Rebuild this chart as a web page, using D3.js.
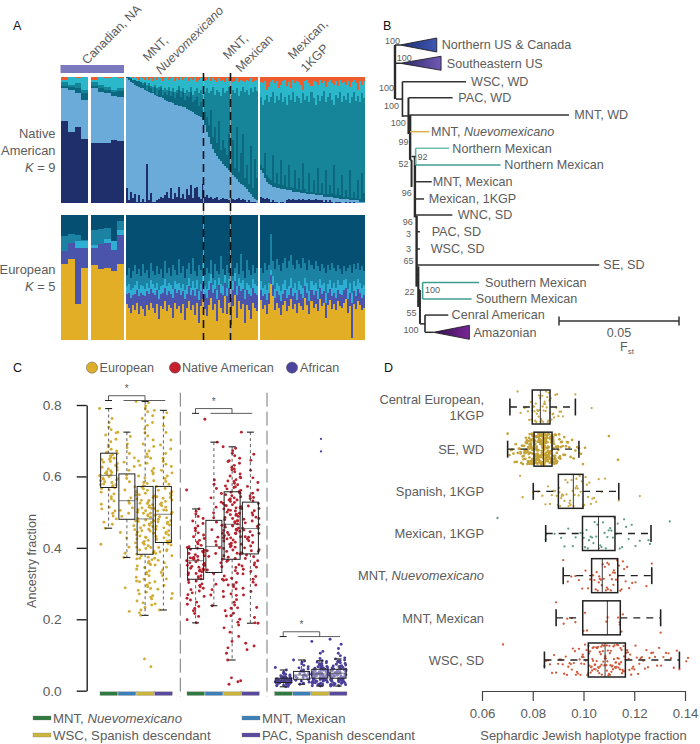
<!DOCTYPE html>
<html><head><meta charset="utf-8">
<script src="https://cdn.jsdelivr.net/npm/d3@7"></script>
<style>
html,body{margin:0;padding:0;background:#fff}
svg{display:block}
text{font-family:"Liberation Sans",Arial,sans-serif;fill:#5c5c5c}
</style></head><body><svg id="c" width="700" height="744"></svg>
<script>
// ===== Panel A data (cumulative percentage boundaries, bottom to top) =====
const naCan1={navy:[65,56,60,51],light:[91,90,87,82],deep:[93,92,91,87],teal:[96,94,95,90],cyan:[98,100,99,100]};
const naCan2={navy:[48,48,48,50,49],light:[91,88,87,85,84],deep:[93,91,90,88,89],teal:[96,94,92,90,91],cyan:[98,100,99,100,99]};
const naMntNavy=[12,2,9,4,7,1,6,1,3,1,31,2,8,1,1,2,3,5,4,6,9,4,12,3,8,5,13,4,7,3,11,6,14,4,12,13,5,3,15,5,6,4,5,3,4,5,2,3,4,3,3,2,4,3,2,3,4,2,3,2,1,2,1,1,1,0];
const naMntLight=[99,98,96,95,94,93,92,91,91,90,89,88,87,87,86,85,84,84,83,82,81,80,80,79,78,78,77,77,76,76,75,74,73,72,71,70,69,68,66,62,56,52,47,43,40,37,35,33,31,29,28,26,24,22,21,19,17,15,14,13,11,9,7,5,3,2];
const naMntDeep=[100,100,99,98,98,97,97,96,94,95,90,93,91,88,92,86,90,91,86,88,86,89,85,88,83,87,90,84,88,82,85,84,88,80,82,84,77,80,74,72,68,62,74,52,60,48,65,42,50,44,38,55,32,50,28,60,25,40,55,20,30,15,45,12,35,20];
const naMntTeal=[100,100,99,98,98,97,97,96,95,96,94,95,93,92,94,91,92,93,90,91,90,92,89,91,88,90,93,89,91,87,90,88,92,86,89,91,87,90,86,88,91,87,89,92,86,90,88,85,91,87,89,92,86,90,87,91,85,89,92,88,90,86,91,88,92,89];
const naMntCyan=[100,100,100,99,100,99,98,100,99,98,100,98,99,97,100,98,100,99,97,99,100,98,99,100,97,99,98,100,98,99,100,97,99,98,100,96,98,99,100,97,98,100,97,99,98,96,99,97,98,96,99,97,98,96,97,99,96,98,97,96,98,97,99,96,97,98];
const naMexNavy=[5,4,3,4,3,1,2,1,1,0,1,1,0,2,3,2,3,2,2,3,2,3,2,2,3,2,2,3,2,2,2,1,2,1,2,1,0,1,1,1,0,0,1,0,1,0,1,0,0,0,0,0];
const naMexLight=[26,24,20,17,15,14,13,13,12,12,11,11,11,10,10,10,9,9,9,9,8,8,8,7,7,7,7,6,6,6,6,5,5,5,5,5,4,4,4,3,3,3,3,3,2,2,2,2,2,1,1,1];
const naMexDeep=[30,28,40,22,20,18,38,16,24,15,34,14,22,13,30,13,12,26,11,20,10,32,11,9,24,9,18,8,28,8,16,7,26,7,14,8,30,6,12,6,22,5,10,5,26,4,9,4,18,3,24,8];
const naMexTeal=[84,78,82,86,80,84,88,79,85,82,87,80,84,78,86,82,88,80,85,83,79,87,82,85,80,88,83,78,86,81,85,89,80,84,87,82,78,86,83,88,80,85,82,87,79,84,88,81,85,80,87,83];
const naMexCyan=[96,95,97,90,92,96,98,95,97,91,94,97,98,93,96,91,98,95,97,96,94,90,97,98,95,93,97,96,94,98,95,97,92,96,98,95,94,97,93,98,95,96,94,97,92,96,98,95,90,97,94,97];
const euCan1={gold:[61,65,29,58],indigo:[71,78,74,74],cyan:[71,78,79,79],mid:[83,85,84,80]};
const euCan2={gold:[60,57,58,55,61],indigo:[74,77,78,72,84],cyan:[76,77,81,79,88],mid:[88,89,90,79,95]};
const euMntGold=[29,26,22,28,24,30,21,27,25,19,28,24,30,26,22,29,17,27,25,31,23,28,26,18,30,25,27,22,29,16,26,31,24,28,20,30,14,27,33,25,19,28,34,24,29,15,32,26,22,35,21,30,12,27,36,18,31,25,29,14,28,24,17,30,26,23];
const euMntIndigo=[37,38,34,36,37,40,35,38,36,35,39,37,41,38,36,40,33,37,38,42,36,39,37,34,41,38,40,36,39,33,37,43,36,40,35,41,32,39,45,37,34,40,46,38,41,33,44,38,36,46,35,42,34,40,47,36,43,39,41,33,40,37,35,42,38,36];
const euMntCyan=[43,45,40,42,44,47,41,44,43,41,46,42,48,45,42,46,40,43,44,49,43,46,44,41,47,45,46,42,45,40,44,50,42,47,42,48,39,45,51,43,41,47,53,44,48,40,50,45,43,52,42,49,41,47,54,43,50,46,48,40,46,44,42,49,45,43];
const euMntMid=[52,58,50,55,60,53,57,51,61,54,56,50,62,55,52,59,53,57,50,63,54,58,51,60,56,52,65,54,59,50,57,62,53,66,55,51,60,56,68,52,58,54,64,50,61,55,53,67,57,52,60,54,66,51,58,62,53,69,55,50,64,56,52,60,54,58];
const euMexGold=[32,25,28,21,29,45,35,24,30,26,20,28,31,23,27,33,25,29,22,30,27,24,34,28,21,31,26,29,23,33,27,30,18,28,32,25,29,24,31,27,26,30,33,22,27,2,29,25,31,28,24,26];
const euMexIndigo=[40,35,37,32,38,52,44,34,39,36,31,37,40,34,36,42,35,38,32,40,37,34,43,38,31,40,36,39,33,42,37,39,30,38,41,35,38,34,40,37,36,40,42,33,38,30,39,35,41,38,34,36];
const euMexCyan=[47,42,44,40,46,56,51,41,46,43,39,45,48,41,43,50,42,46,40,47,44,42,50,46,39,47,44,46,41,49,44,46,38,45,48,42,46,42,48,44,44,48,49,41,46,38,47,43,49,46,42,44];
const euMexMid=[58,54,62,56,60,85,63,57,65,60,55,62,66,58,63,68,60,57,64,61,58,66,62,56,64,60,57,63,59,55,61,58,54,60,56,62,58,55,60,57,53,59,55,58,60,54,61,57,62,56,59,55];

// ===== Panel B data (Fst distances, row numbers) =====
const treeBranches=[["Northern US & Canada",0,.0021,0],["Southeastern US",0,.0021,1.08],["",.0004,.0031,3.2],["",.0031,.0056,4.2],
 ["",.0063,.0069,6.8],["",.0069,.0086,6.6],["",.0090,.0097,13.6],["",.0097,.0104,14.5],["",.0104,.0125,16.5]];
const treeSpines=[[0,0,3.2,2.4],[.0031,2.17,4.25,1.6],[.0056,3.12,5.27,2],[.0063,4.14,6.8,2.4],[.0069,6.8,8.4,2],[.0083,6.6,10.2,2.4],[.0090,10.1,14.3,2.4],[.0097,13.1,15.5,2.2],[.0104,14.5,16.5,2],[.0125,15.98,17,1.6],[.0086,6.11,7.1,1.6,"#5fb5a5"],[.0115,14.05,15.03,1.6,"#3f9d8f"]];
const treeTips=[
 ["WSC, WD",.0031,.0296,2.17,"#333",5],["PAC, WD",.0056,.0240,3.12,"#333",5.7],["MNT, WD",.0060,.0725,4.14,"#333",5.3],
 ["MNT, |Nuevomexicano",.0063,.0143,5.13,"#d9b347",1.7],["Northern Mexican",.0086,.0225,6.11,"#6cc0ae",3.3],["Northern Mexican",.0086,.0440,7.1,"#3f9d8f",3.7],
 ["MNT, Mexican",.0083,.0153,8.09,"#333",1],["Mexican, 1KGP",.0083,.0121,9.11,"#333",4.7],["WNC, SD",.0083,.0239,10.06,"#333",5.3],
 ["PAC, SD",.0090,.0104,11.05,"#333",11.7],["WSC, SD",.0090,.0104,12.07,"#333",10.7],["SE, SD",.0090,.0851,13.02,"#333",4],
 ["Southern Mexican",.0115,.0350,14.05,"#3f9d8f",6],["Southern Mexican",.0115,.0319,15.03,"#3f9d8f",4.3],["Cenral American",.0125,.0222,15.98,"#333",3.3]];
const treeClades=[["Northern US & Canada",.0021,.0174,0,"gN",5],["Southeastern US",.0021,.0192,1.08,"gS",5.7],["Amazonian",.0160,.0310,17,"gA",4]];
const bootstrap=[["100",-.001,-.26],["100",.0039,.75],["100",-.0035,2.56],["100",-.0014,3.61],["100",.0014,4.63],["99",.0035,5.76],["92",.0115,6.65],["52",.0035,7.04],["96",.0049,8.78],["96",.0053,10.49],["3",.0056,11.2],["3",.0056,12.07],["65",.0056,12.76],["100",.0156,14.5],["22",.006,14.63],["55",.0069,15.88],["100",.0067,16.86]];

// ===== Panel C data (ancestry fraction x 1000) =====
const ancestries=["European","Native American","African"];
const cPops=["MNT, |Nuevomexicano","MNT, Mexican","WSC, Spanish descendant","PAC, Spanish descendant"];
const boxesC=[[[569,603,665,455,790],[480,532,607,373,724],[382,481,572,211,810],[415,494,572,226,785]],
 [[312,364,398,190,509],[331,404,477,238,696],[368,466,557,86,683],[383,454,528,189,724]],
 [[23,30,35,11,58],[32,44,54,18,86],[35,47,60,13,84],[35,49,60,13,89]]];
const eu1=[790,762,751,738,731,722,716,704,697,688,683,676,671,668,664,661,657,654,651,647,642,640,636,631,629,626,621,618,616,613,609,607,604,601,599,596,593,590,588,585,583,579,577,574,571,568,566,562,556,551,543,537,531,522,514,509,503,497,489,481,472,466,455,410,625,603,592,648,577,611];
const eu2=[724,712,691,680,664,652,640,628,617,603,594,585,571,562,548,540,531,525,512,505,497,488,476,462,451,443,428,414,402,385,373,288,222];
const eu3=[810,806,797,790,781,770,762,751,743,733,722,713,702,691,684,671,663,655,651,643,637,631,622,615,607,601,596,588,580,574,570,565,561,557,553,549,545,541,537,533,529,525,521,518,514,511,507,504,500,497,493,489,486,482,478,474,471,467,463,459,456,452,448,444,441,437,433,429,425,421,418,414,410,406,402,398,394,390,386,382,378,374,371,367,362,358,353,349,345,340,335,331,327,322,318,312,307,302,296,291,286,281,276,271,266,262,257,251,246,240,233,226,218,211,89,67,512,476,447,533,401,369,583,610,524,463,497,430,355,305];
const eu4=[785,778,765,741,723,702,688,677,664,651,642,634,628,617,610,601,594,586,578,572,566,561,557,552,548,543,539,534,530,526,522,518,514,510,506,503,499,495,491,487,484,480,476,472,468,464,460,456,452,448,444,440,436,432,428,424,420,416,412,408,401,395,389,384,378,371,365,358,352,346,338,331,322,313,305,295,284,272,258,243,226,505,473,541,419,392];
const na1=[562,509,502,495,488,482,475,468,461,455,448,442,436,431,426,421,416,411,407,403,399,396,393,390,387,384,381,378,376,373,371,368,366,364,361,358,356,353,351,348,346,343,341,338,335,333,330,328,325,322,319,316,313,310,307,303,299,295,291,287,283,279,274,269,264,259,254,248,242,236,230,224,216,208,199,190,372,351,339,401];
const na2=[760,696,590,578,566,552,540,528,514,498,484,472,463,451,441,430,418,408,400,392,384,376,368,358,347,338,328,312,298,283,268,238];
const na3=[683,679,672,665,658,651,644,637,631,625,619,613,607,601,596,591,586,581,577,573,569,565,561,557,553,549,546,543,540,537,534,530,527,524,521,518,515,512,509,506,503,500,497,494,491,488,485,482,479,476,473,470,467,464,461,458,455,452,449,446,443,440,437,434,431,428,425,422,419,416,413,410,406,402,398,394,390,386,382,378,374,370,362,353,345,336,328,321,315,309,303,297,291,285,278,271,263,255,248,240,232,224,217,209,200,192,184,176,164,152,138,120,105,86,36,25,18,28,534,512,476,449,428,598,621,556,505,463,385,311,267,210,642,587,493,441,519,571,403,365,296,231];
const na4=[724,662,645,617,596,583,572,562,553,545,538,531,524,517,510,504,498,492,486,480,475,470,465,460,455,450,445,440,435,430,425,420,415,410,405,400,395,390,385,380,375,370,364,358,352,346,340,334,327,320,312,304,296,287,278,268,233,205,190,189,133,125,115,455,482,510,431,392,349,541];
const af1=[65,58,52,48,46,44,42,41,40,39,38,37,36,35,35,34,33,33,32,32,31,31,30,30,30,29,29,28,28,27,27,26,26,25,25,24,24,23,23,22,21,21,20,19,18,17,16,15,14,12,11,37,28,33,26,30];
const af2=[86,83,80,75,71,67,64,61,58,56,54,52,50,48,46,45,43,42,40,39,37,36,34,33,31,29,27,24,21,18];
const af3=[138,110,105,90,84,82,80,78,76,74,72,70,68,67,65,64,62,61,60,58,57,56,55,54,53,52,51,50,49,49,48,47,47,46,45,45,44,43,43,42,41,41,40,39,39,38,37,37,36,36,35,34,34,33,32,32,31,30,30,29,28,27,26,25,24,23,22,21,20,19,18,17,16,15,14,13,63,59,55,51,47,44,41,38,35,32,29,26,53,46,39,72,66,57];
const af4=[144,130,118,105,98,92,89,86,84,82,80,78,76,74,72,70,68,67,65,64,62,61,60,58,57,56,55,54,53,52,51,50,49,48,47,46,45,44,43,42,41,40,39,38,37,36,35,34,33,32,31,30,29,28,27,26,25,24,23,22,21,20,19,18,17,16,15,14,13,61,55,49,43,37,31,25,69,58,46,40];
const cOutliers=[705,670];
const dotsC=[[eu1,eu2,eu3,eu4],[na1,na2,na3,na4],[af1,af2,af3,af4]];

// ===== Panel D data (fraction x 10000) =====
const dRows=["Central European,|1KGP","SE, WD","Spanish, 1KGP","Mexican, 1KGP","MNT, ~Nuevomexicano","MNT, Mexican","WSC, SD"];
const boxesD=[[798,830,868,710,968],[805,842,876,701,982],[901,960,998,802,1139],[996,1059,1124,851,1266],[1032,1074,1135,920,1269],[997,1094,1145,892,1304],[1019,1085,1165,846,1378]];
const sj1=[740,752,768,773,781,786,792,795,799,802,805,807,809,812,814,816,818,821,823,825,827,829,831,833,835,837,839,841,843,845,847,849,851,853,855,857,859,861,863,866,868,871,874,878,881,884,889,893,896,901,906,912,919,968,1032];
const sj2=[701,708,714,719,724,729,733,737,741,745,749,752,755,758,761,764,767,769,771,773,775,777,779,781,783,785,787,788,790,791,793,794,796,797,798,800,801,802,804,805,806,807,809,810,811,812,813,815,816,817,818,819,820,821,822,823,824,825,826,827,828,829,830,831,832,833,834,835,836,837,838,839,840,841,842,843,844,845,846,847,848,849,850,851,852,853,854,855,856,857,858,859,860,861,862,863,864,865,866,867,868,869,870,871,872,873,874,875,876,877,878,879,880,881,882,883,884,885,886,888,889,891,892,894,895,897,899,901,903,905,907,910,912,915,918,921,924,927,931,935,939,944,949,955,961,968,975,982,990,998,1006,1100,1136,832,818,846,806,859,775,792,827,843,861,838,812,854,867,795,823,851,784,873,829,808,841,798,856,819,881,764,836,847,811,869,752,826,893,804,860,788,835,909,816,849,
 813,841,787,862,826,799,854,771,836,808,879,820,846,793,868,831,805,857,782,843,816,874,799,838,760,851,824,890,811,846,776,862,830,802,885,819,857,794,841,768,873,825,809,849,787,835,896,814,866,803,829,781,853,839,797,876,822,845,791,860,817,883,806,834,773,856,828,800,871,843,812,789,865,832,795,850,823,904,810,842,766,869,827,801,858,785,837,881,815,847,798,863,826,779,852,835,807,887,819,844];
const sj3=[750,760,802,822,838,850,860,868,875,882,888,894,899,904,908,912,916,920,925,929,933,937,941,945,949,953,957,961,965,969,973,977,981,985,989,993,998,1003,1008,1013,1018,1023,1029,1035,1042,1050,1060,1072,1085,1139,1222,914,947,972,905];
const sj4=[661,851,853,886,912,925,940,958,969,988,996,1001,1006,1012,1017,1022,1028,1034,1039,1044,1050,1055,1061,1066,1071,1077,1083,1088,1094,1099,1105,1110,1116,1122,1128,1135,1143,1152,1160,1168,1178,1190,1205,1222,1256,1262,1340];
const sj5=[920,938,952,968,982,995,1008,1018,1026,1033,1038,1043,1048,1052,1056,1060,1064,1068,1072,1076,1080,1084,1088,1092,1096,1100,1104,1108,1112,1116,1120,1124,1128,1132,1136,1140,1145,1150,1155,1160,1166,1172,1180,1192,1205,1248,1269,1062,1094,1118];
const sj6=[892,922,936,954,968,1000,1006,1014,1090,1095,1136,1142,1150,1155,1304,1143];
const sj7=[683,846,852,860,868,876,884,892,900,906,912,918,924,930,935,940,945,950,954,958,962,966,970,974,978,982,985,988,991,994,997,1000,1003,1006,1009,1012,1015,1018,1020,1022,1024,1026,1028,1030,1032,1034,1036,1038,1040,1042,1044,1046,1048,1050,1052,1054,1056,1058,1060,1062,1064,1066,1068,1070,1072,1074,1076,1078,1080,1082,1084,1086,1088,1090,1092,1094,1096,1098,1100,1102,1104,1106,1108,1110,1112,1114,1116,1118,1120,1122,1124,1126,1128,1130,1132,1134,1136,1138,1140,1142,1144,1146,1148,1150,1152,1154,1156,1158,1160,1163,1166,1169,1172,1175,1178,1181,1184,1188,1192,1196,1200,1205,1210,1215,1220,1225,1230,1236,1242,1248,1254,1260,1267,1274,1282,1290,1298,1306,1315,1325,1335,1345,1356,1368,1378,1405,1412,1035,1071,1104,1139,1058,1092,1127];
const dotsD=[sj1,sj2,sj3,sj4,sj5,sj6,sj7];

// ===== Drawing =====
const svg=d3.select("#c");
const jit=i=>((i*0.6180339887+i*i*0.0731)%1);
function txt(sel,x,y,s,size,anchor="start"){return sel.append("text").attr("x",x).attr("y",y).attr("font-size",size).attr("text-anchor",anchor).text(s)}
[["A",13,30],["B",383,30],["C",13,372],["D",384,372]].forEach(d=>{svg.append("text").attr("x",d[1]).attr("y",d[2]).attr("font-size",12.5).style("fill","#111").text(d[0])});

// --- Panel A
const naColors={navy:"#1e2f6b",light:"#6babd9",deep:"#0c687e",teal:"#168599",cyan:"#2cb8cb",top:"#ee5b2c"};
const euColors={gold:"#e2ae26",indigo:"#4a54ab",cyan:"#2eaed3",mid:"#1b82a3",deep:"#044f72"};
const yNA=d3.scaleLinear([0,100],[203,77]), yEU=d3.scaleLinear([0,100],[340,215]);
const gA=svg.append("g");
function stack(series,keys,colors,y,x0,x1){
  const n=series[0].length, xb=d3.scaleBand(d3.range(n),[x0,x1]);
  const all=[...series,Array(n).fill(100)];
  all.forEach((arr,k)=>{
    gA.append("g").attr("fill",colors[keys[k]]).attr("shape-rendering","crispEdges").selectAll("rect").data(arr).join("rect")
     .attr("x",(d,i)=>xb(i)).attr("width",xb.bandwidth())
     .attr("y",d=>y(d)).attr("height",(d,i)=>y(k?all[k-1][i]:0)-y(d));
  });
}
const naKeys=["navy","light","deep","teal","cyan","top"], euKeys=["gold","indigo","cyan","mid","deep"];
stack([naCan1.navy,naCan1.light,naCan1.deep,naCan1.teal,naCan1.cyan],naKeys,naColors,yNA,61,88);
stack([naCan2.navy,naCan2.light,naCan2.deep,naCan2.teal,naCan2.cyan],naKeys,naColors,yNA,91,124);
stack([naMntNavy,naMntLight,naMntDeep,naMntTeal,naMntCyan],naKeys,naColors,yNA,125.5,258);
stack([naMexNavy,naMexLight,naMexDeep,naMexTeal,naMexCyan],naKeys,naColors,yNA,260,365);
stack([euCan1.gold,euCan1.indigo,euCan1.cyan,euCan1.mid],euKeys,euColors,yEU,61,88);
stack([euCan2.gold,euCan2.indigo,euCan2.cyan,euCan2.mid],euKeys,euColors,yEU,91,124);
stack([euMntGold,euMntIndigo,euMntCyan,euMntMid],euKeys,euColors,yEU,125.5,258);
stack([euMexGold,euMexIndigo,euMexCyan,euMexMid],euKeys,euColors,yEU,260,365);
gA.append("rect").attr("x",60.5).attr("y",65).attr("width",63.5).attr("height",8).attr("fill","#7b79bd");
[203.5,230.5].forEach(x=>{
  gA.append("line").attr("x1",x).attr("x2",x).attr("y1",73).attr("y2",340).attr("stroke","#aaa").attr("stroke-width",.8);
  gA.append("line").attr("x1",x).attr("x2",x).attr("y1",73).attr("y2",340).attr("stroke","#111").attr("stroke-width",1.6).attr("stroke-dasharray","8,5");
});
function rot(x,y,lines){
  const t=gA.append("text").attr("transform",`translate(${x},${y}) rotate(-45)`).attr("font-size",12.5);
  lines.forEach((l,i)=>{
    const s=t.append("tspan").attr("x",0).attr("dy",i?18:0);
    l.forEach(p=>s.append("tspan").attr("font-style",p[1]?"italic":null).text(p[0]));
  });
}
rot(87,65,[[["Canadian, NA",0]]]);
rot(148,62,[[["MNT,",0]],[["Nuevomexicano",1]]]);
rot(228,60,[[["MNT,",0]],[["Mexican",0]]]);
rot(293,60,[[["Mexican,",0]],[["1KGP",0]]]);
[["Native ",138],["American",155],["K = 9",172],["European",274],["K = 5",291]].forEach(d=>{
  const t=gA.append("text").attr("x",55.5).attr("y",d[1]).attr("text-anchor","end").attr("font-size",12.9);
  if(d[0][0]=="K"){t.append("tspan").attr("font-style","italic").text("K");t.append("tspan").text(d[0].slice(1))} else t.text(d[0]);
});

// --- Panel B
const gB=svg.append("g");
const xT=d3.scaleLinear([0,.05],[395,515]);
const rowPos=d3.scaleLinear([0,17],[45,332.3]);
const defs=svg.append("defs");
[["gN","#1e2f70","#3f56b3"],["gS","#2a2a66","#7058b4"],["gA","#32104f","#7a2596"]].forEach(g=>{
  const lg=defs.append("linearGradient").attr("id",g[0]);
  lg.append("stop").attr("offset",0).attr("stop-color",g[1]);lg.append("stop").attr("offset",1).attr("stop-color",g[2]);
});
function tlabel(x,y,s){
  const t=gB.append("text").attr("x",x).attr("y",y+4.4).attr("font-size",12.6);
  s.split("|").forEach((p,i)=>t.append("tspan").attr("font-style",i?"italic":null).text(p));
}
treeSpines.forEach(s=>gB.append("line").attr("x1",xT(s[0])).attr("x2",xT(s[0])).attr("y1",rowPos(s[1])).attr("y2",rowPos(s[2])).attr("stroke",s[4]||"#2b2b2b").attr("stroke-width",s[3]));
treeBranches.forEach(b=>gB.append("line").attr("x1",xT(b[1])).attr("x2",xT(b[2])).attr("y1",rowPos(b[3])).attr("y2",rowPos(b[3])).attr("stroke","#2b2b2b").attr("stroke-width",1.5));
treeTips.forEach(t=>{
  gB.append("line").attr("x1",xT(t[1])).attr("x2",xT(t[2])).attr("y1",rowPos(t[3])).attr("y2",rowPos(t[3])).attr("stroke",t[4]).attr("stroke-width",1.5);
  tlabel(xT(t[2])+t[5],rowPos(t[3]),t[0]);
});
treeClades.forEach(c=>{
  const y=rowPos(c[3]),h=7;
  gB.append("path").attr("d",d3.line()([[xT(c[1]),y],[xT(c[2]),y-h],[xT(c[2]),y+h]])+"Z").attr("fill",`url(#${c[4]})`).attr("stroke","#222").attr("stroke-width",.9);
  tlabel(xT(c[2])+c[5],y,c[0]);
});
gB.append("line").attr("x1",xT(.0125)).attr("x2",xT(.016)).attr("y1",rowPos(17)).attr("y2",rowPos(17)).attr("stroke","#2b2b2b").attr("stroke-width",1.5);
bootstrap.forEach(b=>gB.append("text").attr("x",xT(b[1])).attr("y",rowPos(b[2])+3).attr("text-anchor","middle").attr("font-size",9).text(b[0]));
const sb0=559,sbs=d3.scaleLinear([0,.05],[sb0,679]);
const sbAxis=gB.append("g").attr("transform","translate(0,321)");
sbAxis.append("line").attr("x1",sbs(0)).attr("x2",sbs(.05)).attr("stroke","#333").attr("stroke-width",1.5);
[0,.05].forEach(v=>sbAxis.append("line").attr("x1",sbs(v)).attr("x2",sbs(v)).attr("y1",-4.5).attr("y2",4.5).attr("stroke","#333").attr("stroke-width",1.5));
txt(gB,sbs(.025),336.5,"0.05",12.5,"middle");
const fst=gB.append("text").attr("x",620).attr("y",351).attr("font-size",12.5);fst.append("tspan").text("F");
fst.append("tspan").attr("font-size",8).attr("dy",3).text("st");

// --- Panel C
const gC=svg.append("g");
const yC=d3.scaleLinear([0,.8],[690.7,405]);
const groupStart=[100,187,274.7], stripW=18.3;
const popX=d3.scaleBand(d3.range(4),[0,73]).paddingInner(0);
const cCol=["#d1ad36","#b7222f","#4a3f9b"], cLeg=["#deae2a","#c4202e","#4d449e"];
const popCol=["#2f7a3f","#3b80b8","#cbb63b","#5a4a9d"];
const axC=d3.axisLeft(yC).tickValues([0,.2,.4,.6,.8]).tickFormat(d3.format(".1f")).tickSize(10).tickSizeOuter(0).tickPadding(15);
const aC=gC.append("g").attr("transform","translate(86.7,0)").call(axC);
aC.selectAll("path,line").attr("stroke","#222").attr("stroke-width",1.4);
aC.selectAll("text").attr("font-size",13.7).style("font-family","'Liberation Sans'").style("fill","#5c5c5c");
gC.append("text").attr("transform","translate(35.5,561) rotate(-90)").attr("text-anchor","middle").attr("font-size",12.6).text("Ancestry fraction");
[180.3,267].forEach(x=>gC.append("line").attr("x1",x).attr("x2",x).attr("y1",392.7).attr("y2",697).attr("stroke","#777").attr("stroke-width",1).attr("stroke-dasharray","14,5"));
dotsC.forEach((grp,g)=>grp.forEach((vals,p)=>{
  const cx=groupStart[g]+popX(p)+popX.bandwidth()/2-.5;
  gC.append("g").attr("fill",cCol[g]).selectAll("circle").data(vals).join("circle")
   .attr("cx",(d,i)=>cx+(jit(i)-.5)*(g==2?16:18)).attr("cy",d=>yC(d/1000)).attr("r",1.45);
}));
gC.append("g").attr("fill",cCol[2]).selectAll("circle").data(cOutliers).join("circle").attr("cx",321).attr("cy",d=>yC(d/1000)).attr("r",1.1);
boxesC.forEach((grp,g)=>grp.forEach((b,p)=>{
  const cx=groupStart[g]+popX(p)+popX.bandwidth()/2-.5,hw=8;
  const y=v=>yC(v/1000);
  if(g==2&&p>0) gC.append("rect").attr("x",cx-hw).attr("width",hw*2).attr("y",y(b[2])).attr("height",y(b[0])-y(b[2])).attr("fill","#fff").attr("fill-opacity",.35);
  gC.append("line").attr("x1",cx).attr("x2",cx).attr("y1",y(b[4])).attr("y2",y(b[2])).attr("stroke","#333").attr("stroke-width",.8).attr("stroke-dasharray","3,3");
  gC.append("line").attr("x1",cx).attr("x2",cx).attr("y1",y(b[0])).attr("y2",y(b[3])).attr("stroke","#333").attr("stroke-width",.8).attr("stroke-dasharray","3,3");
  [b[3],b[4]].forEach(v=>gC.append("line").attr("x1",cx-3.5).attr("x2",cx+3.5).attr("y1",y(v)).attr("y2",y(v)).attr("stroke","#222").attr("stroke-width",1.1));
  gC.append("rect").attr("x",cx-hw).attr("width",hw*2).attr("y",y(b[2])).attr("height",y(b[0])-y(b[2])).attr("fill","none").attr("stroke","#222").attr("stroke-width",1);
  gC.append("line").attr("x1",cx-hw).attr("x2",cx+hw).attr("y1",y(b[1])).attr("y2",y(b[1])).attr("stroke","#444").attr("stroke-width",.7);
}));
groupStart.forEach(g0=>d3.range(4).forEach(p=>gC.append("rect").attr("x",g0+popX(p)).attr("y",691.8).attr("width",stripW-.8).attr("height",3.6).attr("fill",popCol[p]).attr("stroke","#777").attr("stroke-width",.3)));
// significance brackets
[[0,0,.826],[1,0,.79],[2,0,.165]].forEach(s=>{
  const g0=groupStart[s[0]],xa=g0+popX(0)+8.5,xb=g0+popX(2)+8.5;
  const yb=yC(s[2]),yl=yb+4.8;
  gC.append("path").attr("d",d3.line()([[xa,yl],[xa,yb],[xb,yb],[xb,yl]])).attr("fill","none").attr("stroke","#333").attr("stroke-width",.8);
  gC.append("line").attr("x1",xa+15).attr("x2",g0+popX(3)+10.5).attr("y1",yl).attr("y2",yl).attr("stroke","#333").attr("stroke-width",.8);
  gC.append("line").attr("x1",xa-3.5).attr("x2",xa+3.5).attr("y1",yl).attr("y2",yl).attr("stroke","#222").attr("stroke-width",1);
  txt(gC,(xa+xb)/2,yb-3.5,"*",10,"middle");
});
// top legend
[[92,99.5],[175,182],[292,300]].forEach((p,i)=>{
  gC.append("circle").attr("cx",p[0]).attr("cy",367.6).attr("r",5.6).attr("fill",cLeg[i]).attr("stroke","#555").attr("stroke-width",.5);
  txt(gC,p[1],372.4,ancestries[i],12.6);
});
// bottom legend
[[33,718],[242,718],[33,735],[242,735]].forEach((p,i)=>{
  gC.append("rect").attr("x",p[0]).attr("y",p[1]-2).attr("width",18).attr("height",4).attr("fill",popCol[i]).attr("stroke","#777").attr("stroke-width",.3);
  const t=gC.append("text").attr("x",p[0]+20).attr("y",p[1]+4.6).attr("font-size",13.2);
  cPops[i].split("|").forEach((s,k)=>t.append("tspan").attr("font-style",k?"italic":null).text(s));
});

// --- Panel D
const gD=svg.append("g");
const xD=d3.scaleLinear([.06,.14],[482,685]);
const yD=d3.scalePoint(d3.range(7),[407,660]);
const dCol=["#c9a945","#c3a236","#c9a945","#5f9c8d","#cf5c3c","#cf5c3c","#cf5c3c"];
const axD=d3.axisBottom(xD).tickValues([.06,.08,.1,.12,.14]).tickFormat(d3.format(".2f")).tickSize(10).tickSizeOuter(0).tickPadding(8);
const aD=gD.append("g").attr("transform","translate(0,691)").call(axD);
aD.selectAll("path,line").attr("stroke","#444").attr("stroke-width",1.2);
aD.selectAll("text").attr("font-size",13.2).style("font-family","'Liberation Sans'").style("fill","#5c5c5c");
txt(gD,583.5,739.5,"Sephardic Jewish haplotype fraction",12.9,"middle");
dotsD.forEach((vals,r)=>{
  gD.append("g").attr("fill",dCol[r]).selectAll("circle").data(vals).join("circle")
   .attr("cx",d=>xD(d/10000)).attr("cy",(d,i)=>yD(r)+(jit(i)-.5)*31).attr("r",r==1?1.35:1.15);
});
boxesD.forEach((b,r)=>{
  const y=yD(r),x=v=>xD(v/10000),hh=17;
  const st=(s,w)=>s.attr("stroke","#222").attr("stroke-width",w);
  st(gD.append("line").attr("x1",x(b[3])).attr("x2",x(b[0])).attr("y1",y).attr("y2",y),1.3).attr("stroke-dasharray","7,6");
  st(gD.append("line").attr("x1",x(b[2])).attr("x2",x(b[4])).attr("y1",y).attr("y2",y),1.3).attr("stroke-dasharray","7,6");
  [b[3],b[4]].forEach(v=>st(gD.append("line").attr("x1",x(v)).attr("x2",x(v)).attr("y1",y-8.5).attr("y2",y+8.5),1.6));
  st(gD.append("rect").attr("x",x(b[0])).attr("width",x(b[2])-x(b[0])).attr("y",y-hh).attr("height",hh*2).attr("fill","none"),1.5);
  st(gD.append("line").attr("x1",x(b[1])).attr("x2",x(b[1])).attr("y1",y-hh).attr("y2",y+hh),.9);
});
dRows.forEach((s,r)=>{
  const y=yD(r);
  if(s.includes("|")){const p=s.split("|");txt(gD,484,y-3.4,p[0],12.9,"end");txt(gD,484,y+13.2,p[1],12.9,"end");return}
  const t=gD.append("text").attr("x",484).attr("y",y+4.8).attr("text-anchor","end").attr("font-size",12.9);
  s.split("~").forEach((p,i)=>t.append("tspan").attr("font-style",i?"italic":null).text(p));
});
</script></body></html>
